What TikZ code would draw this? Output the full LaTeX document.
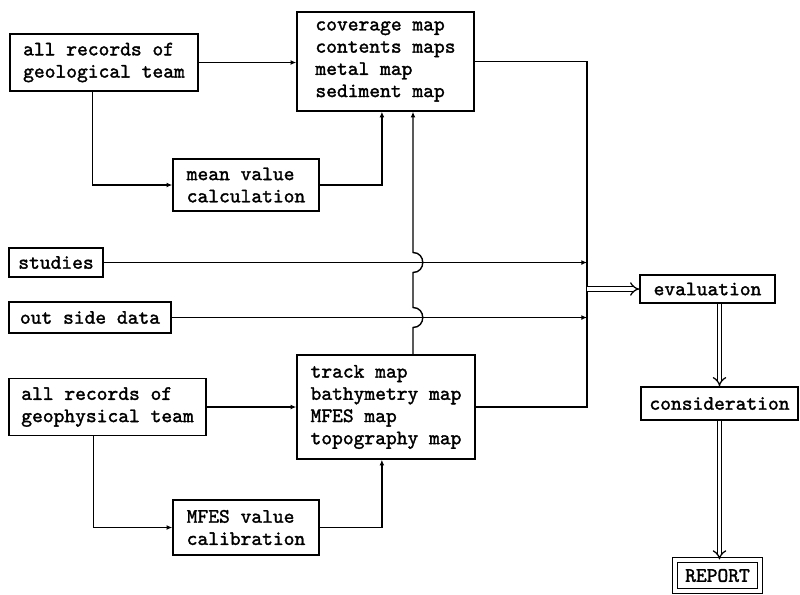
\documentclass[tikz,border=0pt]{standalone}
\usepackage{fontspec}
\setmonofont{lmmono10-regular.otf}[FakeBold=1.6]
\usepackage{tikz}
\usetikzlibrary{arrows.meta, calc}
\tikzset{
  blk/.style={rectangle, draw, line width=1.1pt, inner sep=0pt, align=left,
              font=\ttfamily\fontsize{14.6}{15.8}\selectfont},
  rpt/.style={blk, line width=0.8pt, double, double distance=2.2pt},
  wire/.style={line width=1pt},
  feed/.style={wire, -{Latex[length=4pt, width=3.5pt]}},
  dbl/.style={line width=0.9pt, double, double distance=2.4pt, -{Implies}}
}
\begin{document}
\begin{tikzpicture}[x=0.25mm, y=-0.25mm]
  \useasboundingbox (0,0) rectangle (800,594);
  % sources
  \node[blk, minimum width=188*0.25mm, minimum height=57*0.25mm] (geo) at (104,62.5) {all records of\\geological team};
  \node[blk, minimum width=146*0.25mm, minimum height=52*0.25mm] (mean) at (246,185) {mean value\\calculation};
  \node[blk, minimum width=94*0.25mm, minimum height=29*0.25mm] (stud) at (56,262.5) {studies};
  \node[blk, minimum width=162*0.25mm, minimum height=31*0.25mm] (outd) at (90,317.5) {out side data};
  \node[blk, minimum width=197*0.25mm, minimum height=57*0.25mm] (gph) at (107.5,407) {all records of\\geophysical team};
  \node[blk, minimum width=146*0.25mm, minimum height=55*0.25mm] (calib) at (246,527.5) {MFES value\\calibration};
  % maps
  \node[blk, minimum width=177*0.25mm, minimum height=99*0.25mm] (mapA) at (385.5,61.5) {coverage map\\contents maps\\metal map\\sediment map};
  \node[blk, minimum width=178*0.25mm, minimum height=104*0.25mm] (mapB) at (386,407) {track map\\bathymetry map\\MFES map\\topography map};
  % results
  \node[blk, minimum width=135*0.25mm, minimum height=28*0.25mm] (eval) at (707.5,289) {evaluation};
  \node[blk, minimum width=157*0.25mm, minimum height=33*0.25mm] (cons) at (719.5,403.5) {consideration};
  \node[rpt, minimum width=85*0.25mm, minimum height=31*0.25mm] (rep) at (717.5,575.5) {REPORT};

  \coordinate (jx) at (413,0);
  \coordinate (busB) at (587,407);

  \draw[feed] (geo.east) -- (geo.east -| mapA.west);
  \draw[feed] ($(geo.south west)!0.44!(geo.south east)$) |- (mean.west);
  \draw[feed] (mean.east) -| ($(mapA.south west)!0.48!(mapA.south east)$);
  \draw[feed] (gph.east) -- (mapB.west);
  \draw[feed] ($(gph.south west)!0.43!(gph.south east)$) |- (calib.west);
  \draw[feed] (calib.east) -| ($(mapB.south west)!0.477!(mapB.south east)$);
  \draw[feed] (mapB.north -| jx) -- ($(jx |- outd.east)+(0,10)$)
    .. controls +(13,0) and +(13,0) .. ($(jx |- outd.east)+(0,-10)$)
    -- ($(jx |- stud.east)+(0,10)$)
    .. controls +(13,0) and +(13,0) .. ($(jx |- stud.east)+(0,-10)$)
    -- (mapA.south -| jx);

  \draw[wire] (mapA.east) -| (busB) -- (mapB.east);
  \draw[feed] (stud.east) -- (stud.east -| busB);
  \draw[feed] (outd.east) -- (outd.east -| busB);

  \draw[dbl] (busB |- eval.west) -- (eval.west);
  \draw[dbl] (eval.south -| cons.north) -- (cons.north);
  \draw[dbl] (cons.south) -- (cons.south |- rep.north);
\end{tikzpicture}
\end{document}
